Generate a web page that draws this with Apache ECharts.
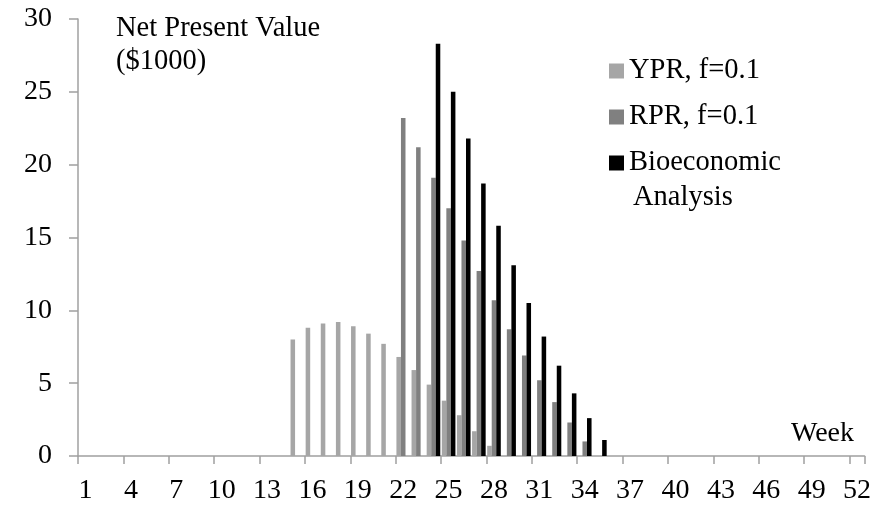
<!DOCTYPE html>
<html>
<head>
<meta charset="utf-8">
<script src="https://cdn.jsdelivr.net/npm/echarts@6/dist/echarts.min.js"></script>
<style>
  html, body { margin: 0; padding: 0; background: #fff; }
  #chart { width: 874px; height: 506px; }
</style>
</head>
<body>
<div id="chart"></div>
<script>
// Categories: weeks 1..52
const weeks = ['1','2','3','4','5','6','7','8','9','10','11','12','13','14','15','16','17','18','19','20','21','22','23','24','25','26','27','28','29','30','31','32','33','34','35','36','37','38','39','40','41','42','43','44','45','46','47','48','49','50','51','52'];

// Series names
const seriesNames = ['YPR, f=0.1', 'RPR, f=0.1', 'Bioeconomic Analysis'];

// Net present value ($1000) per week
const yprValues = [0,0,0,0,0,0,0,0,0,0,0,0,0,0, 8.0,8.8,9.1,9.2,8.9,8.4,7.7,6.8,5.9,4.9,3.8,2.8,1.7,0.7, 0,0,0,0,0,0,0,0,0,0,0,0,0,0,0,0,0,0,0,0,0,0,0,0];
const rprValues = [0,0,0,0,0,0,0,0,0,0,0,0,0,0,0,0,0,0,0,0,0, 23.2,21.2,19.1,17.0,14.8,12.7,10.7,8.7,6.9,5.2,3.7,2.3,1.0, 0,0,0,0,0,0,0,0,0,0,0,0,0,0,0,0,0,0];
const bioValues = [0,0,0,0,0,0,0,0,0,0,0,0,0,0,0,0,0,0,0,0,0,0,0, 28.3,25.0,21.8,18.7,15.8,13.1,10.5,8.2,6.2,4.3,2.6,1.1, 0,0,0,0,0,0,0,0,0,0,0,0,0,0,0,0,0];

// Y axis ticks
const yMin = 0, yMax = 30, yStep = 5;

const FONT = '"Liberation Serif", "Times New Roman", serif';
const colors = ['#a6a6a6', '#808080', '#000000'];
const axisColor = '#a0a0a0';

const chart = echarts.init(document.getElementById('chart'), null, { renderer: 'canvas' });

const barCommon = {
  type: 'bar',
  barGap: '0%',
  barCategoryGap: '10%',
  animation: false
};

chart.setOption({
  animation: false,
  backgroundColor: '#ffffff',
  textStyle: { fontFamily: FONT },
  grid: { left: 78, right: 7, top: 19, bottom: 50, containLabel: false },
  legend: {
    orient: 'vertical',
    left: 609,
    top: 56,
    padding: 0,
    itemWidth: 15,
    itemHeight: 15,
    itemGap: 16,
    icon: 'rect',
    selectedMode: false,
    data: seriesNames,
    formatter: function (name) { return name === 'Bioeconomic Analysis' ? 'Bioeconomic' : name; },
    textStyle: { fontFamily: FONT, fontSize: 28.5, color: '#000', lineHeight: 30 }
  },
  graphic: [
    {
      type: 'text', left: 116, top: 12, silent: true,
      style: { text: 'Net Present Value\n($1000)', font: '28.5px ' + FONT, fill: '#000', lineHeight: 33 }
    },
    {
      type: 'text', x: 854, y: 434, silent: true,
      style: { text: 'Week', font: '28px ' + FONT, fill: '#000', align: 'right', verticalAlign: 'middle' }
    },
    {
      type: 'text', x: 633, y: 198, silent: true,
      style: { text: 'Analysis', font: '28.5px ' + FONT, fill: '#000', align: 'left', verticalAlign: 'middle' }
    }
  ],
  xAxis: {
    type: 'category',
    data: weeks,
    boundaryGap: true,
    axisLine: { show: true, lineStyle: { color: axisColor, width: 1.5 } },
    axisTick: { show: true, interval: 2, length: 8, inside: false, lineStyle: { color: axisColor, width: 1.5 } },
    axisLabel: { interval: 2, margin: 21, fontFamily: FONT, fontSize: 28, color: '#000', hideOverlap: false },
    splitLine: { show: false }
  },
  yAxis: {
    type: 'value',
    min: yMin, max: yMax, interval: yStep,
    axisLine: { show: true, lineStyle: { color: axisColor, width: 1.5 } },
    axisTick: { show: true, length: 9, inside: false, lineStyle: { color: axisColor, width: 1.5 } },
    axisLabel: { margin: 26, fontFamily: FONT, fontSize: 28, color: '#000' },
    splitLine: { show: false }
  },
  series: [
    Object.assign({ name: seriesNames[0], data: yprValues, itemStyle: { color: colors[0] } }, barCommon),
    Object.assign({ name: seriesNames[1], data: rprValues, itemStyle: { color: colors[1] } }, barCommon),
    Object.assign({ name: seriesNames[2], data: bioValues, itemStyle: { color: colors[2] } }, barCommon)
  ]
});
</script>
</body>
</html>
